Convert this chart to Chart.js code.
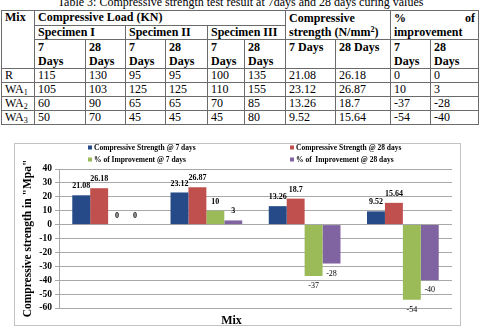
<!DOCTYPE html>
<html>
<head>
<meta charset="utf-8">
<script src="https://cdn.jsdelivr.net/npm/chart.js@4/dist/chart.umd.min.js"></script>
<style>
  html, body { margin: 0; padding: 0; background: #fff; }
  body { width: 481px; height: 326px; position: relative; overflow: hidden; font-family: "Liberation Serif", "Times New Roman", serif; color: #000; }
  #caption { position: absolute; left: 0; top: -4px; width: 481px; text-align: center; font-size: 12px; line-height: 13px; }
  #tbl { position: absolute; left: 1px; top: 10px; width: 477px; border-collapse: collapse; table-layout: fixed; font-size: 12px; }
  #tbl td, #tbl th { border: 1px solid #6b6b6b; padding: 0 0 0 3px; text-align: left; vertical-align: top; line-height: 13px; height: 12px; overflow: hidden; white-space: nowrap; }
  #tbl th { font-weight: bold; }
  #tbl th.two { line-height: 14px; height: 28px; }
  #tbl sub { font-size: 8px; vertical-align: -2px; line-height: 0; }
  #tbl sup { font-size: 8px; vertical-align: 4px; line-height: 0; }
  .split { display: flex; justify-content: space-between; padding-right: 3px; }
  #box { position: absolute; left: 14px; top: 143px; width: 445px; height: 181px; border: 1px solid #c3c3c3; }
  #chart { display: block; }
</style>
</head>
<body>
<div id="caption">Table 3: Compressive strength test result at 7days and 28 days curing values</div>
<table id="tbl">
  <colgroup>
    <col style="width:33px"><col style="width:51px"><col style="width:40px"><col style="width:40px">
    <col style="width:42px"><col style="width:37px"><col style="width:41px"><col style="width:50px">
    <col style="width:55px"><col style="width:40px"><col style="width:48px">
  </colgroup>
  <thead>
    <tr>
      <th rowspan="3">Mix</th>
      <th colspan="6">Compressive Load (KN)</th>
      <th colspan="2" rowspan="2" class="two">Compressive<br>strength (N/mm<sup>2</sup>)</th>
      <th colspan="2" rowspan="2" class="two"><div class="split"><span>%</span><span>of</span></div>improvement</th>
    </tr>
    <tr>
      <th colspan="2">Specimen I</th>
      <th colspan="2">Specimen II</th>
      <th colspan="2">Specimen III</th>
    </tr>
    <tr>
      <th class="two">7<br>Days</th><th class="two">28<br>Days</th>
      <th class="two">7<br>Days</th><th class="two">28<br>Days</th>
      <th class="two">7<br>Days</th><th class="two">28<br>Days</th>
      <th class="two">7 Days</th><th class="two">28 Days</th>
      <th class="two">7<br>Days</th><th class="two">28<br>Days</th>
    </tr>
  </thead>
  <tbody id="rows"></tbody>
</table>
<div id="box"><canvas id="chart" width="445" height="181"></canvas></div>

<script>
// mixes
var mixes = ['R', 'WA1', 'WA2', 'WA3'];
var mixHtml = ['R', 'WA<sub>1</sub>', 'WA<sub>2</sub>', 'WA<sub>3</sub>'];

// compressive load (KN), per specimen
var spec1_7 = [115, 105, 60, 50];
var spec1_28 = [130, 103, 90, 70];
var spec2_7 = [95, 125, 65, 45];
var spec2_28 = [95, 125, 65, 45];
var spec3_7 = [100, 110, 70, 45];
var spec3_28 = [135, 155, 85, 80];

// compressive strength (N/mm2)
var strength7 = [21.08, 23.12, 13.26, 9.52];
var strength28 = [26.18, 26.87, 18.7, 15.64];

// % of improvement
var improve7 = [0, 10, -37, -54];
var improve28 = [0, 3, -28, -40];

var seriesNames = [
  'Compressive Strength @ 7 days',
  'Compressive Strength @ 28 days',
  '% of Improvement @ 7 days',
  '% of  Improvement @ 28 days'
];
var seriesColors = ['#254a87', '#c0504d', '#9bbb59', '#8064a2'];

var yMin = -60, yMax = 40, yStep = 10;

// table body
var body = '';
for (var i = 0; i < mixes.length; i++) {
  var cells = [spec1_7[i], spec1_28[i], spec2_7[i], spec2_28[i], spec3_7[i], spec3_28[i],
    strength7[i], strength28[i], improve7[i], improve28[i]];
  body += '<tr><td>' + mixHtml[i] + '</td>';
  for (var c of cells) body += '<td>' + c + '</td>';
  body += '</tr>';
}
document.getElementById('rows').innerHTML = body;

var serif = '"Liberation Serif", "Times New Roman", serif';

// value labels above / below each bar
var barLabels = {
  id: 'barLabels',
  afterDatasetsDraw: function(chart) {
    var ctx = chart.ctx;
    ctx.save();
    ctx.fillStyle = '#000';
    ctx.textAlign = 'center';
    ctx.textBaseline = 'middle';
    chart.data.datasets.forEach(function(ds, di) {
      var meta = chart.getDatasetMeta(di);
      meta.data.forEach(function(bar, j) {
        var v = ds.data[j];
        if (v >= 0) {
          ctx.font = 'bold 8px ' + serif;
          ctx.fillText(String(v), bar.x, bar.y - 9);
        } else {
          ctx.font = '8px ' + serif;
          ctx.fillText(String(v), bar.x, bar.y + 10);
        }
      });
    });
    ctx.restore();
  }
};

// two-column legend + x axis title
var extras = {
  id: 'extras',
  afterDraw: function(chart) {
    var ctx = chart.ctx;
    ctx.save();
    ctx.textBaseline = 'middle';
    ctx.textAlign = 'left';
    ctx.font = 'bold 7.5px ' + serif;
    var colX = [73, 275];
    var rowY = [3.5, 15.5];
    chart.data.datasets.forEach(function(ds, i) {
      var x = colX[i % 2], y = rowY[Math.floor(i / 2)];
      ctx.fillStyle = ds.backgroundColor;
      ctx.fillRect(x, y - 2, 4, 4);
      ctx.fillStyle = '#000';
      ctx.fillText(ds.label, x + 6, y + 0.5);
    });
    var a = chart.chartArea;
    ctx.textAlign = 'center';
    ctx.font = 'bold 12px ' + serif;
    ctx.fillText('Mix', (a.left + a.right) / 2 - 24, chart.height - 4);
    ctx.restore();
  }
};

var allSeries = [strength7, strength28, improve7, improve28];

new Chart(document.getElementById('chart'), {
  type: 'bar',
  data: {
    labels: mixes,
    datasets: allSeries.map(function(d, i) {
      return {
        label: seriesNames[i],
        data: d,
        backgroundColor: seriesColors[i],
        borderWidth: 0,
        barPercentage: 1,
        categoryPercentage: 0.73
      };
    })
  },
  options: {
    responsive: false,
    animation: false,
    devicePixelRatio: 1,
    layout: { padding: { top: 25, right: 8, left: 0, bottom: 0 } },
    plugins: {
      legend: { display: false },
      tooltip: { enabled: false }
    },
    scales: {
      x: {
        grid: { display: false },
        border: { display: false },
        ticks: { display: false },
        afterFit: function(s) { s.height = 17; }
      },
      y: {
        min: yMin,
        max: yMax,
        ticks: {
          stepSize: yStep,
          autoSkip: false,
          color: '#000',
          font: { family: serif, size: 9.5, weight: 'bold' },
          padding: 3
        },
        grid: { color: '#a8a8a8', tickLength: 4, lineWidth: 1 },
        border: { color: '#a8a8a8' },
        title: {
          display: true,
          text: 'Compressive strength in "Mpa"',
          color: '#000',
          font: { family: serif, size: 11.5, weight: 'bold' },
          padding: { top: 6, bottom: 0 }
        },
        afterFit: function(s) { s.width = 44; }
      }
    }
  },
  plugins: [barLabels, extras]
});
</script>
</body>
</html>
